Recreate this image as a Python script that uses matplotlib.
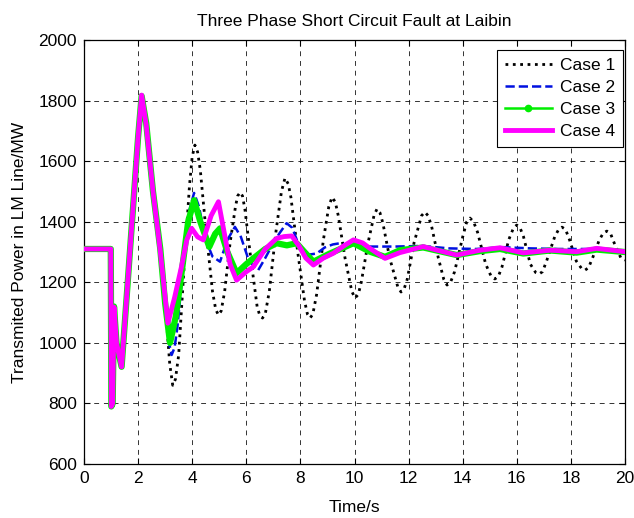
import matplotlib.pyplot as plt
from matplotlib.lines import Line2D

plt.rcParams['font.family'] = ['Liberation Sans', 'DejaVu Sans']

# Case 1 (no control) - black dotted
t_case1 = [0, 0.99, 1.01, 1.06, 1.11, 1.2, 1.39, 1.6, 1.8, 2.0, 2.08, 2.15, 2.22, 2.3,
           2.55, 2.85, 3.05, 3.17, 3.28, 3.38, 3.5, 3.7, 3.9, 4.0, 4.1, 4.2, 4.3,
           4.5, 4.75, 4.87, 4.97, 5.07, 5.2, 5.4, 5.6, 5.68, 5.77, 5.86, 5.95, 6.15,
           6.4, 6.5, 6.6, 6.7, 6.85, 7.1, 7.3, 7.43, 7.55, 7.65, 7.9, 8.15, 8.26,
           8.36, 8.46, 8.6, 8.85, 9.05, 9.17, 9.29, 9.4, 9.65, 9.9, 10.02, 10.14,
           10.25, 10.5, 10.72, 10.83, 10.94, 11.05, 11.3, 11.6, 11.72, 11.84, 11.95,
           12.2, 12.48, 12.6, 12.72, 12.85, 13.1, 13.3, 13.42, 13.55, 13.7, 14.0,
           14.15, 14.27, 14.4, 14.55, 14.85, 15.05, 15.19, 15.32, 15.45, 15.7, 15.88,
           16.0, 16.12, 16.25, 16.5, 16.7, 16.82, 16.95, 17.1, 17.4, 17.55, 17.67,
           17.8, 17.95, 18.2, 18.4, 18.52, 18.65, 18.8, 19.05, 19.2, 19.33, 19.46,
           19.6, 19.85, 20.0]
p_case1 = [1310, 1310, 790, 800, 1120, 1000, 921, 1180, 1430, 1680, 1770, 1815, 1790, 1730,
           1530, 1310, 1070, 930, 860, 880, 960, 1250, 1520, 1615, 1653, 1630, 1570,
           1380, 1170, 1110, 1092, 1105, 1170, 1330, 1450, 1485, 1497, 1485, 1440, 1290,
           1120, 1090, 1082, 1095, 1170, 1370, 1500, 1544, 1525, 1480, 1300, 1140, 1095,
           1082, 1095, 1160, 1340, 1450, 1481, 1465, 1420, 1280, 1170, 1148, 1160,
           1200, 1330, 1420, 1442, 1430, 1395, 1280, 1185, 1168, 1180, 1210,
           1330, 1420, 1432, 1420, 1385, 1280, 1210, 1191, 1200, 1235, 1350,
           1400, 1412, 1400, 1365, 1260, 1220, 1211, 1220, 1250, 1340, 1380,
           1389, 1380, 1350, 1260, 1232, 1227, 1235, 1270, 1350, 1375, 1382,
           1375, 1340, 1270, 1245, 1240, 1248, 1280, 1340, 1363, 1369, 1362,
           1330, 1280, 1273]

# Case 2 - blue dashed
t_case2 = [0, 0.99, 1.01, 1.06, 1.11, 1.2, 1.39, 1.6, 1.8, 2.0, 2.13, 2.3, 2.55, 2.83,
           3.0, 3.12, 3.24, 3.35, 3.45, 3.7, 3.9, 4.07, 4.25, 4.5, 4.75, 5.03, 5.3,
           5.58, 5.8, 6.1, 6.44, 6.7, 7.0, 7.25, 7.49, 7.7, 7.95, 8.2, 8.6, 8.9,
           9.2, 9.46, 9.8, 10.5, 11.5, 12.5, 13.5, 14.5, 15.5, 16.5, 17.5, 18.5,
           19.5, 20.0]
p_case2 = [1310, 1310, 790, 800, 1120, 1000, 921, 1180, 1430, 1680, 1815, 1725, 1510, 1310,
           1120, 1010, 960, 985, 1050, 1280, 1440, 1495, 1450, 1340, 1285, 1268, 1340,
           1383, 1350, 1270, 1240, 1280, 1330, 1365, 1395, 1380, 1320, 1290, 1295, 1315,
           1325, 1329, 1322, 1318, 1318, 1320, 1312, 1310, 1316, 1312, 1310, 1310,
           1308, 1305]

# Case 3 - green with dots
t_case3 = [0, 0.99, 1.01, 1.06, 1.11, 1.2, 1.39, 1.6, 1.8, 2.0, 2.13, 2.3, 2.55, 2.82,
           3.0, 3.18, 3.4, 3.65, 3.85, 4.07, 4.3, 4.63, 4.85, 5.03, 5.3, 5.64, 6.0,
           6.26, 6.7, 7.12, 7.5, 7.86, 8.15, 8.48, 9.09, 9.96, 10.57, 11.13, 11.68,
           12.54, 13.78, 14.64, 15.38, 16.24, 17.23, 18.21, 18.95, 20.0]
p_case3 = [1310, 1310, 790, 800, 1120, 1000, 921, 1180, 1430, 1680, 1815, 1725, 1500, 1310,
           1130, 1000, 1090, 1260, 1400, 1471, 1400, 1317, 1360, 1378, 1300, 1230, 1260,
           1279, 1310, 1329, 1322, 1329, 1300, 1268, 1295, 1329, 1301, 1284, 1306,
           1315, 1290, 1303, 1310, 1295, 1305, 1298, 1308, 1300]

# Case 4 - magenta thick
t_case4 = [0, 0.99, 1.01, 1.06, 1.11, 1.2, 1.39, 1.6, 1.8, 2.0, 2.13, 2.3, 2.55, 2.81,
           3.1, 3.35, 3.6, 3.8, 3.98, 4.2, 4.41, 4.7, 4.97, 5.15, 5.4, 5.64, 6.0,
           6.26, 6.7, 7.12, 7.4, 7.68, 7.95, 8.2, 8.48, 8.85, 9.22, 9.6, 9.96, 10.3,
           10.57, 11.13, 11.68, 12.54, 13.1, 13.78, 14.64, 15.38, 16.24, 17.23, 18.21,
           18.95, 20.0]
p_case4 = [1310, 1310, 790, 800, 1118, 1000, 921, 1180, 1430, 1680, 1818, 1720, 1500, 1310,
           1065, 1150, 1250, 1340, 1378, 1350, 1340, 1420, 1466, 1380, 1260, 1207, 1235,
           1251, 1310, 1345, 1351, 1353, 1320, 1280, 1257, 1280, 1296, 1320, 1340, 1330,
           1312, 1279, 1298, 1318, 1305, 1290, 1306, 1314, 1297, 1306, 1301,
           1312, 1301]

labels = ['Case 1', 'Case 2', 'Case 3', 'Case 4']


def plot_cases():
    fig = plt.figure(figsize=(6.34, 5.18), dpi=100)
    ax = fig.add_axes([0.1325, 0.1042, 0.8533, 0.8186])

    ax.plot(t_case1, p_case1, color='black', linestyle=':', linewidth=2.0, zorder=3)
    ax.plot(t_case2, p_case2, color='#0010e0', linestyle='--', linewidth=1.8, zorder=3)
    ax.plot(t_case3, p_case3, color='#00ee00', linewidth=4.5, zorder=4)
    ax.plot(t_case4, p_case4, color='#ff00ff', linewidth=3.5, zorder=5)

    ax.set_xlim(0, 20)
    ax.set_ylim(600, 2000)
    ax.set_xticks(range(0, 21, 2))
    ax.set_yticks(range(600, 2001, 200))
    ax.tick_params(direction='in', top=True, right=True, length=4, labelsize=12.5, pad=5)
    ax.grid(True, color='black', linestyle=(0, (5, 5)), linewidth=0.7, alpha=0.8)
    for s in ax.spines.values():
        s.set_linewidth(0.9)

    ax.set_title('Three Phase Short Circuit Fault at Laibin', fontsize=12.5, pad=10)
    ax.set_xlabel('Time/s', fontsize=12.5, labelpad=10)
    ax.set_ylabel('Transmited Power in LM Line/MW', fontsize=12.5, labelpad=8)

    handles = [
        Line2D([], [], color='black', linestyle=':', linewidth=2.0),
        Line2D([], [], color='#0010e0', linestyle='--', linewidth=1.8),
        Line2D([], [], color='#00ee00', linewidth=1.8, marker='.', markersize=9),
        Line2D([], [], color='#ff00ff', linewidth=3.5),
    ]
    leg = ax.legend(handles, labels, loc='upper right', bbox_to_anchor=(0.997, 0.976),
                    fontsize=12.5, fancybox=False, framealpha=1, edgecolor='black',
                    handlelength=2.7, handletextpad=0.5, borderpad=0.45,
                    borderaxespad=0, labelspacing=0.4)
    leg.get_frame().set_linewidth(0.8)

    fig.savefig('out.png', dpi=100)


def main():
    plot_cases()


if __name__ == '__main__':
    main()
